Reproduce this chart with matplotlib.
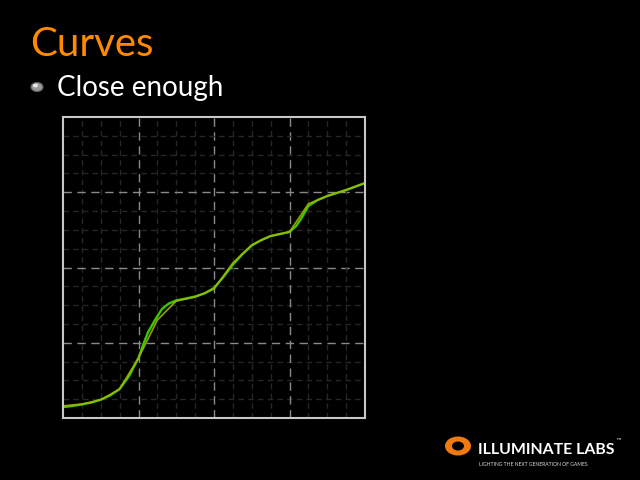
import matplotlib.pyplot as plt
from matplotlib.patches import Ellipse, Circle
import numpy as np

# polyline approximation (olive), one point per minor grid column
approx_x = list(range(17))
approx_y = [0.64, 0.74, 0.96, 1.54, 3.19, 5.21, 6.22, 6.43, 6.86,
            8.24, 9.20, 9.68, 9.89, 11.38, 11.80, 12.12, 12.49]

# smooth reference curve (green)
curve_x = [0, 0.5, 1, 1.5, 2, 2.5, 3, 3.5, 4, 4.25, 4.5, 4.9, 5.25, 5.6,
           6, 6.5, 7, 7.5, 8, 8.5, 9, 9.5, 10, 10.5, 11, 11.5, 12,
           12.35, 12.65, 13, 13.5, 14, 15, 16]
curve_y = [0.58, 0.64, 0.72, 0.82, 0.98, 1.20, 1.54, 2.23, 3.19, 3.90,
           4.55, 5.25, 5.80, 6.08, 6.25, 6.35, 6.46, 6.62, 6.91, 7.50,
           8.15, 8.70, 9.17, 9.46, 9.67, 9.78, 9.89, 10.20, 10.65, 11.27,
           11.59, 11.80, 12.12, 12.49]

fig = plt.figure(figsize=(6.4, 4.8), dpi=100, facecolor='black')

# slide text
fig.text(30 / 640, 1 - 56 / 480, 'Curves', color='#ff8a00', fontsize=29,
         family='Lato')
fig.text(57 / 640, 1 - 96 / 480, 'Close enough', color='white', fontsize=20,
         family='Lato')
fig.patches.append(Circle((37 / 640, 1 - 87 / 480), 6 / 640, transform=fig.transFigure,
                          facecolor='#9a9a9a', edgecolor='#606060', lw=0.8))
fig.patches.append(Circle((35.5 / 640, 1 - 85.5 / 480), 2.5 / 640, transform=fig.transFigure,
                          facecolor='#e8e8e8', edgecolor='none'))

ax = fig.add_axes([63 / 640, 62 / 480, 302 / 640, 301 / 480])
ax.set_facecolor('black')
ax.set_xlim(0, 16)
ax.set_ylim(0, 16)

# grid
for v in np.arange(1, 16):
    if v % 4 == 0:
        ax.axvline(v, color='#8a8a8a', lw=1, ls=(0, (6, 4)))
        ax.axhline(v, color='#8a8a8a', lw=1, ls=(0, (6, 4)))
    else:
        ax.axvline(v, color='#262626', lw=1, ls=(0, (4, 3)))
        ax.axhline(v, color='#262626', lw=1, ls=(0, (4, 3)))

ax.plot(curve_x, curve_y, color='#3cc800', lw=1.7)
ax.plot(approx_x, approx_y, color='#a8b400', lw=1.3, alpha=0.85)

ax.set_xticks([])
ax.set_yticks([])
for s in ax.spines.values():
    s.set_color('#c8c8c8')
    s.set_linewidth(1.5)

# logo
fig.patches.append(Ellipse((458 / 640, 1 - 446 / 480), 26 / 640, 19 / 480,
                           transform=fig.transFigure, facecolor='#f07a10', edgecolor='none'))
fig.patches.append(Circle((458 / 640, 1 - 446 / 480), 6 / 640, transform=fig.transFigure,
                          facecolor='black', edgecolor='none'))
fig.text(478 / 640, 1 - 454 / 480, 'ILLUMINATE LABS', color='white', fontsize=11.4,
         fontweight='bold', family='Lato')
fig.text(615 / 640, 1 - 443 / 480, '\u2122', color='white', fontsize=4.5)
fig.text(479 / 640, 1 - 466 / 480, 'LIGHTING THE NEXT GENERATION OF GAMES', color='#dddddd',
         fontsize=3.6, family='Lato')

fig.savefig('out.png', dpi=100, facecolor='black')
